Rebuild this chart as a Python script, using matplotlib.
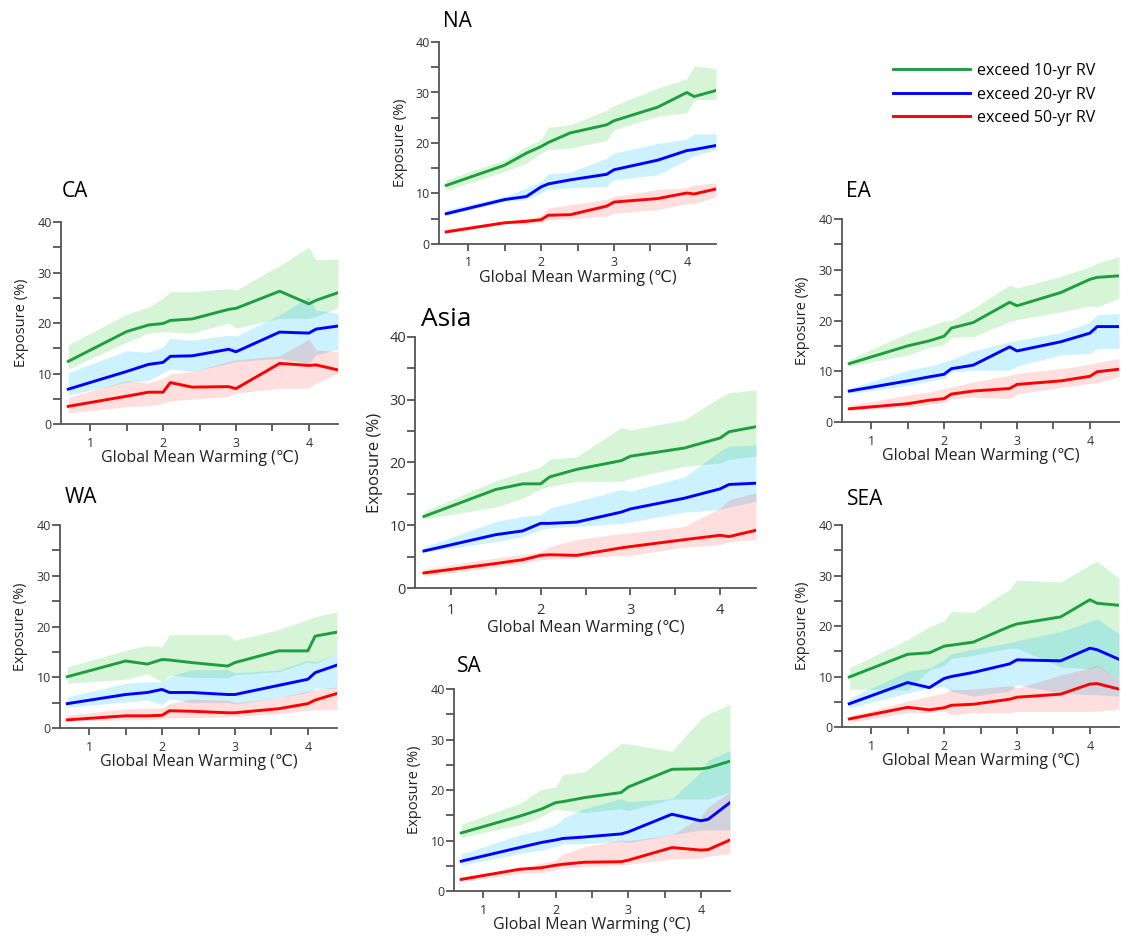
import numpy as np
import matplotlib.pyplot as plt
from matplotlib.ticker import FixedLocator, NullFormatter

plt.rcParams['font.family'] = ['Open Sans', 'DejaVu Sans']

# warming levels (x) shared by all regions
gmw = [0.7, 1.5, 1.8, 2.0, 2.1, 2.4, 2.9, 3.0, 3.6, 4.0, 4.1, 4.4]

# ---- NA ----
na_10 = [11.6, 15.6, 18.0, 19.3, 20.1, 22.0, 23.6, 24.4, 27.1, 30.0, 29.2, 30.4]
na_10_hi = [12.7, 16.7, 19.3, 20.7, 23.1, 23.6, 26.5, 27.4, 30.9, 32.7, 35.3, 34.7]
na_10_lo = [10.6, 14.4, 16.0, 18.0, 18.7, 19.0, 20.5, 22.6, 25.3, 26.0, 28.6, 28.6]
na_20 = [6.0, 8.8, 9.4, 11.3, 11.9, 12.7, 13.8, 14.7, 16.6, 18.5, 18.7, 19.5]
na_20_hi = [6.8, 9.4, 11.1, 12.4, 13.9, 14.2, 17.0, 18.0, 19.9, 20.8, 21.8, 21.8]
na_20_lo = [5.6, 8.4, 8.8, 10.1, 10.8, 11.1, 11.4, 12.7, 13.7, 16.7, 17.5, 18.7]
na_50 = [2.4, 4.2, 4.5, 4.8, 5.7, 5.8, 7.5, 8.3, 9.0, 10.1, 9.9, 10.9]
na_50_hi = [3.0, 4.5, 5.1, 5.6, 7.1, 7.8, 8.8, 9.4, 10.8, 11.1, 11.7, 12.1]
na_50_lo = [2.2, 4.0, 4.0, 4.2, 4.8, 5.0, 5.5, 6.1, 6.8, 8.0, 8.0, 9.4]

# ---- CA ----
ca_10 = [12.4, 18.3, 19.6, 19.9, 20.5, 20.8, 22.7, 22.9, 26.3, 23.8, 24.5, 26.0]
ca_10_hi = [15.7, 21.7, 23.2, 24.9, 26.2, 26.2, 26.8, 26.5, 31.4, 35.0, 32.5, 32.7]
ca_10_lo = [10.9, 16.2, 18.0, 18.3, 18.2, 18.0, 20.0, 19.0, 20.9, 20.9, 21.3, 23.0]
ca_20 = [6.9, 10.4, 11.8, 12.2, 13.4, 13.5, 14.8, 14.3, 18.2, 18.0, 18.8, 19.4]
ca_20_hi = [10.2, 14.5, 14.2, 15.3, 17.0, 16.6, 17.6, 17.4, 21.6, 25.3, 22.6, 21.9]
ca_20_lo = [5.7, 8.3, 8.6, 10.1, 10.9, 10.4, 12.0, 12.4, 13.0, 12.0, 13.7, 14.8]
ca_50 = [3.5, 5.5, 6.3, 6.3, 8.2, 7.3, 7.4, 7.0, 12.0, 11.6, 11.7, 10.7]
ca_50_hi = [5.3, 8.6, 8.1, 9.1, 9.9, 10.4, 12.4, 12.7, 13.5, 16.8, 14.7, 14.3]
ca_50_lo = [2.2, 3.4, 3.6, 4.1, 4.6, 4.9, 5.5, 6.1, 7.1, 7.1, 8.1, 10.1]

# ---- EA ----
ea_10 = [11.5, 15.0, 16.0, 16.9, 18.5, 19.6, 23.6, 22.9, 25.5, 28.1, 28.5, 28.8]
ea_10_hi = [12.3, 17.5, 18.9, 19.9, 20.0, 22.4, 27.0, 26.4, 28.7, 30.6, 31.3, 32.6]
ea_10_lo = [11.0, 13.2, 14.7, 15.2, 16.7, 16.8, 19.8, 20.2, 21.7, 22.9, 22.7, 24.4]
ea_20 = [6.1, 8.1, 8.9, 9.4, 10.5, 11.2, 14.8, 14.0, 15.8, 17.5, 18.8, 18.8]
ea_20_hi = [6.6, 10.2, 11.0, 11.9, 12.3, 14.0, 15.8, 16.1, 17.6, 19.6, 21.1, 21.4]
ea_20_lo = [5.6, 7.2, 8.1, 8.6, 9.9, 10.2, 10.2, 11.0, 13.2, 13.5, 14.5, 14.5]
ea_50 = [2.6, 3.6, 4.3, 4.6, 5.5, 6.1, 6.6, 7.4, 8.1, 9.0, 9.9, 10.4]
ea_50_hi = [3.3, 5.3, 5.9, 6.6, 6.9, 7.9, 9.2, 9.6, 10.5, 11.4, 11.7, 12.5]
ea_50_lo = [2.3, 3.0, 3.5, 3.8, 4.6, 4.9, 4.6, 5.5, 6.8, 7.6, 7.7, 8.9]

# ---- Asia ----
as_10 = [11.4, 15.7, 16.6, 16.6, 17.7, 18.9, 20.3, 21.0, 22.3, 23.9, 24.9, 25.7]
as_10_hi = [12.2, 17.1, 18.4, 19.3, 20.5, 20.9, 25.6, 25.2, 26.8, 30.4, 31.1, 31.6]
as_10_lo = [11.0, 12.9, 14.3, 15.8, 16.2, 17.0, 17.0, 17.5, 19.4, 19.9, 20.5, 21.0]
as_20 = [5.9, 8.5, 9.1, 10.3, 10.3, 10.5, 12.1, 12.6, 14.3, 15.8, 16.5, 16.7]
as_20_hi = [6.5, 10.6, 11.4, 11.7, 12.7, 13.8, 15.7, 15.4, 17.7, 21.8, 22.6, 22.8]
as_20_lo = [5.7, 7.4, 8.2, 9.3, 9.6, 9.8, 10.3, 10.5, 12.1, 12.5, 12.9, 13.8]
as_50 = [2.4, 3.9, 4.5, 5.2, 5.3, 5.2, 6.4, 6.6, 7.7, 8.4, 8.2, 9.2]
as_50_hi = [3.0, 4.8, 5.3, 5.8, 6.6, 7.7, 8.7, 8.8, 9.8, 12.7, 14.1, 15.2]
as_50_lo = [1.9, 3.3, 3.9, 4.5, 4.6, 4.8, 5.2, 5.2, 6.5, 6.9, 7.4, 7.7]

# ---- WA ----
wa_10 = [10.1, 13.2, 12.6, 13.5, 13.4, 12.9, 12.2, 12.9, 15.2, 15.2, 18.1, 18.9]
wa_10_hi = [12.0, 15.3, 16.3, 16.0, 18.4, 18.4, 18.4, 17.3, 19.4, 21.4, 21.9, 22.9]
wa_10_lo = [8.8, 9.6, 10.7, 9.1, 10.4, 10.0, 9.9, 10.5, 11.1, 13.0, 12.7, 14.7]
wa_20 = [4.8, 6.6, 7.0, 7.6, 7.0, 7.0, 6.6, 6.6, 8.4, 9.6, 10.9, 12.4]
wa_20_hi = [6.1, 8.8, 9.1, 9.1, 10.1, 11.5, 11.5, 10.9, 11.4, 13.4, 13.0, 14.7]
wa_20_lo = [4.1, 5.1, 5.5, 4.6, 5.8, 5.0, 5.0, 4.7, 6.0, 7.0, 7.8, 7.8]
wa_50 = [1.6, 2.4, 2.4, 2.5, 3.4, 3.3, 3.0, 3.0, 3.8, 4.8, 5.5, 6.8]
wa_50_hi = [2.5, 3.8, 3.9, 3.9, 4.8, 5.7, 5.5, 5.0, 6.0, 7.3, 7.6, 8.1]
wa_50_lo = [1.4, 1.6, 1.6, 1.8, 2.0, 2.0, 2.2, 2.3, 2.8, 3.5, 3.6, 3.6]

# ---- SEA ----
sea_10 = [9.9, 14.4, 14.7, 16.0, 16.2, 16.8, 19.9, 20.4, 21.8, 25.2, 24.5, 24.1]
sea_10_hi = [11.7, 17.3, 19.9, 21.0, 22.9, 22.7, 27.3, 29.1, 28.7, 32.1, 32.8, 29.5]
sea_10_lo = [7.5, 7.3, 11.3, 12.2, 13.6, 14.2, 15.6, 15.6, 11.9, 11.5, 12.0, 9.5]
sea_20 = [4.6, 8.8, 7.8, 9.6, 10.0, 10.8, 12.5, 13.3, 13.1, 15.6, 15.3, 13.4]
sea_20_hi = [5.7, 11.0, 11.7, 13.3, 14.5, 15.4, 16.7, 17.1, 18.9, 20.9, 21.4, 18.5]
sea_20_lo = [3.8, 6.7, 7.7, 8.0, 7.1, 6.1, 7.1, 8.4, 6.7, 6.4, 6.4, 6.1]
sea_50 = [1.6, 3.9, 3.4, 3.8, 4.3, 4.5, 5.5, 5.9, 6.5, 8.5, 8.6, 7.5]
sea_50_hi = [2.1, 5.1, 6.1, 6.7, 7.4, 7.5, 8.2, 7.7, 10.3, 11.7, 12.3, 9.4]
sea_50_lo = [0.9, 2.8, 2.9, 3.1, 2.4, 2.8, 2.8, 3.1, 3.1, 3.1, 3.1, 3.6]

# ---- SA ----
sa_10 = [11.5, 14.8, 16.2, 17.5, 17.7, 18.5, 19.5, 20.6, 24.1, 24.2, 24.4, 25.7]
sa_10_hi = [13.2, 17.3, 20.1, 20.6, 23.1, 23.6, 29.2, 29.1, 27.7, 34.1, 35.0, 37.0]
sa_10_lo = [10.6, 13.1, 14.7, 16.3, 16.0, 15.5, 16.3, 15.9, 18.2, 18.2, 18.2, 19.6]
sa_20 = [5.9, 8.6, 9.6, 10.1, 10.4, 10.7, 11.3, 11.7, 15.2, 13.9, 14.2, 17.5]
sa_20_hi = [7.3, 11.1, 12.1, 13.1, 14.4, 16.3, 18.3, 17.7, 18.3, 23.6, 25.9, 27.8]
sa_20_lo = [5.1, 7.4, 8.1, 8.8, 9.3, 9.4, 9.8, 9.6, 11.1, 12.1, 12.1, 12.1]
sa_50 = [2.3, 4.3, 4.6, 5.1, 5.3, 5.7, 5.8, 6.1, 8.6, 8.1, 8.2, 10.1]
sa_50_hi = [2.8, 4.5, 5.5, 6.1, 7.3, 8.8, 10.1, 10.0, 11.1, 14.7, 16.7, 19.6]
sa_50_lo = [1.8, 3.5, 3.6, 4.2, 4.5, 4.8, 5.1, 5.3, 6.3, 6.5, 6.9, 7.4]

labels = ['exceed 10-yr RV', 'exceed 20-yr RV', 'exceed 50-yr RV']
line_cols = ['#1f9e3f', '#0000ff', '#ff0000']
fill_cols = ['#33cc33', '#00bfff', '#ff0000']
fill_alpha = [0.2, 0.2, 0.13]

W, H = 1121, 938
fig = plt.figure(figsize=(W / 100, H / 100), dpi=100)

# name, series, axes box in pixels (left, top, right, bottom), title position, big?
panels = [
    ('NA', [(na_10, na_10_lo, na_10_hi), (na_20, na_20_lo, na_20_hi), (na_50, na_50_lo, na_50_hi)],
     (439, 42, 716, 244), (443, 27), False),
    ('CA', [(ca_10, ca_10_lo, ca_10_hi), (ca_20, ca_20_lo, ca_20_hi), (ca_50, ca_50_lo, ca_50_hi)],
     (61, 222, 338, 424), (62, 197), False),
    ('EA', [(ea_10, ea_10_lo, ea_10_hi), (ea_20, ea_20_lo, ea_20_hi), (ea_50, ea_50_lo, ea_50_hi)],
     (842, 219, 1119, 422), (846, 197), False),
    ('Asia', [(as_10, as_10_lo, as_10_hi), (as_20, as_20_lo, as_20_hi), (as_50, as_50_lo, as_50_hi)],
     (415, 337, 756, 588), (421, 326), True),
    ('WA', [(wa_10, wa_10_lo, wa_10_hi), (wa_20, wa_20_lo, wa_20_hi), (wa_50, wa_50_lo, wa_50_hi)],
     (60, 525, 337, 728), (65, 503), False),
    ('SEA', [(sea_10, sea_10_lo, sea_10_hi), (sea_20, sea_20_lo, sea_20_hi), (sea_50, sea_50_lo, sea_50_hi)],
     (842, 525, 1119, 727), (847, 505), False),
    ('SA', [(sa_10, sa_10_lo, sa_10_hi), (sa_20, sa_20_lo, sa_20_hi), (sa_50, sa_50_lo, sa_50_hi)],
     (454, 689, 730, 891), (457, 672), False),
]

handles = []
for name, series, (l, t, r, b), (tx, ty), big in panels:
    ax = fig.add_axes([l / W, 1 - b / H, (r - l) / W, (b - t) / H])
    for k, (m, lo, hi) in enumerate(series):
        ax.fill_between(gmw, lo, hi, color=fill_cols[k], alpha=fill_alpha[k], lw=0)
    hs = []
    for k, (m, lo, hi) in enumerate(series):
        h, = ax.plot(gmw, m, color=line_cols[k], lw=2.1, label=labels[k])
        hs.append(h)
    if not handles:
        handles = hs

    ax.set_xlim(0.6, 4.4)
    ax.set_ylim(0, 40)
    ax.xaxis.set_major_locator(FixedLocator([1, 2, 3, 4]))
    ax.xaxis.set_minor_locator(FixedLocator([1.5, 2.5, 3.5]))
    ax.yaxis.set_major_locator(FixedLocator([0, 10, 20, 30, 40]))
    ax.yaxis.set_minor_locator(FixedLocator([5, 15, 25, 35]))
    ax.xaxis.set_minor_formatter(NullFormatter())
    ax.yaxis.set_minor_formatter(NullFormatter())
    for s in ['top', 'right']:
        ax.spines[s].set_visible(False)
    for s in ['left', 'bottom']:
        ax.spines[s].set_color('#555555')
        ax.spines[s].set_linewidth(1.3)

    tsize = 10.5 if big else 9
    ax.tick_params(axis='x', which='both', direction='out', length=5, width=1.3,
                   color='#555555', labelsize=tsize, labelcolor='#333333', pad=4 if not big else 6)
    ax.tick_params(axis='y', which='both', direction='out', length=5.5, width=1.3,
                   color='#555555', labelsize=tsize, labelcolor='#333333', pad=1)

    hpx = b - t
    wpx = r - l
    xoff = 40 if big else 34
    yoff = 40 if big else 39
    ax.set_xlabel('Global Mean Warming (℃)', fontsize=11.5, color='#222222', va='center')
    ax.xaxis.set_label_coords(0.5, -xoff / hpx)
    ax.set_ylabel('Exposure (%)', fontsize=12 if big else 10.5, color='#222222', va='center')
    ax.yaxis.set_label_coords(-yoff / wpx, 0.5)

    fig.text(tx / W, 1 - ty / H, name, fontsize=19 if big else 15, color='black',
             ha='left', va='baseline')

fig.legend(handles, labels, loc='upper left', bbox_to_anchor=(893 / W, 1 - 63 / H),
           frameon=False, fontsize=11.5, handlelength=4.8, handletextpad=0.45,
           labelspacing=0.47, borderpad=0, borderaxespad=0)

fig.savefig('out.png', dpi=100)
